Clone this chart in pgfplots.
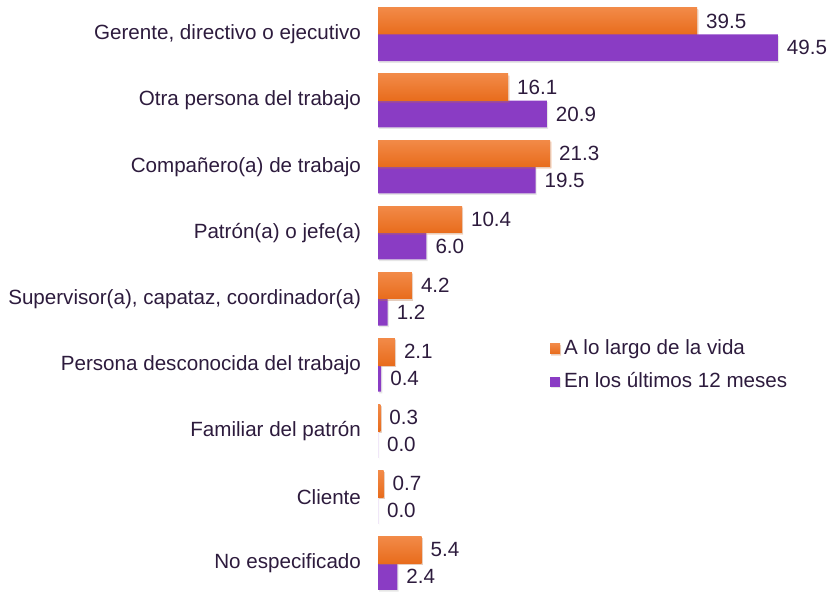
\documentclass[border=0pt]{standalone}
\usepackage{fontspec}
\setmainfont{Liberation Sans}
\usepackage{pgfplots}
\usetikzlibrary{shadows}
\pgfplotsset{compat=1.18}
\definecolor{orTop}{HTML}{F28A48}
\definecolor{orBot}{HTML}{E86C1C}
\definecolor{pu}{HTML}{8A3CC4}
\definecolor{txt}{HTML}{2D1B3D}
\begin{document}
\begin{tikzpicture}
\useasboundingbox (0,0) rectangle (414pt,296pt);
\begin{axis}[
  at={(189pt,-2.17pt)}, anchor=south west,
  scale only axis, width=225pt, height=297.45pt,
  xbar, bar width=13.35pt,
  xmin=0, xmax=55.7,
  ymin=-0.5, ymax=8.5, y dir=reverse,
  axis line style={draw=none},
  xtick=\empty,
  ytick={0,...,8},
  yticklabels={{Gerente, directivo o ejecutivo}, Otra persona del trabajo, Compañero(a) de trabajo, Patrón(a) o jefe(a), {Supervisor(a), capataz, coordinador(a)}, Persona desconocida del trabajo, Familiar del patrón, Cliente, No especificado},
  major tick length=0pt,
  yticklabel style={font=\fontsize{10.3}{11}\selectfont, text=txt, xshift=-5pt},
  nodes near coords={\pgfmathprintnumber[fixed,fixed zerofill,precision=1,assume math mode=true]{\pgfplotspointmeta}},
  every node near coord/.append style={font=\fontsize{10.3}{11}\selectfont, text=txt, xshift=1pt},
  legend style={at={(axis cs:20.5,4.49)}, anchor=north west, draw=none, fill=none, font=\fontsize{10.3}{11}\selectfont, text=txt, row sep=3.5pt, cells={anchor=west}},
  legend image code/.code={\fill[#1] (0pt,-2.5pt) rectangle (5pt,2.5pt);},
  orbar/.style={draw=none, top color=orTop, bottom color=orBot, bar shift=6.67pt, drop shadow={opacity=0.2, shadow xshift=0.6pt, shadow yshift=-0.8pt}},
]
\addplot[orbar] coordinates {(39.5,0)};
\addlegendentry{A lo largo de la vida}
\addplot[draw=none, fill=pu, bar shift=-6.67pt, drop shadow={opacity=0.2, shadow xshift=0.6pt, shadow yshift=-0.8pt}] coordinates {
(49.5,0) (20.9,1) (19.5,2) (6.0,3) (1.2,4) (0.4,5) (0.0,6) (0.0,7) (2.4,8)};
\addlegendentry{En los últimos 12 meses}
\addplot[orbar, forget plot] coordinates {(16.1,1)};
\addplot[orbar, forget plot] coordinates {(21.3,2)};
\addplot[orbar, forget plot] coordinates {(10.4,3)};
\addplot[orbar, forget plot] coordinates {(4.2,4)};
\addplot[orbar, forget plot] coordinates {(2.1,5)};
\addplot[orbar, forget plot] coordinates {(0.3,6)};
\addplot[orbar, forget plot] coordinates {(0.7,7)};
\addplot[orbar, forget plot] coordinates {(5.4,8)};
\end{axis}
\end{tikzpicture}
\end{document}
